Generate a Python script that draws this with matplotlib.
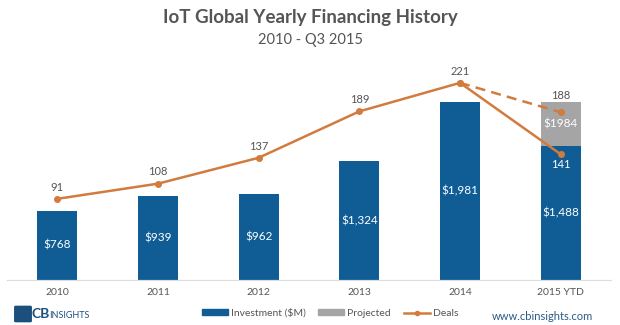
import matplotlib.pyplot as plt
import matplotlib.patches as mpatches
from matplotlib.lines import Line2D

plt.rcParams['font.family'] = ['Lato', 'DejaVu Sans']

# data
years = ['2010', '2011', '2012', '2013', '2014', '2015 YTD']
investment = [768, 939, 962, 1324, 1981, 1488]
invest_labels = ['$768', '$939', '$962', '$1,324', '$1,981', '$1,488']
projected_total = 1984
deals = [91, 108, 137, 189, 221, 141]
deals_projected = 188

blue = '#105d96'
gray = '#a5a5a5'
orange = '#d27b3e'
text_gray = '#555555'

fig = plt.figure(figsize=(6.2, 3.25), dpi=100)
ax = fig.add_axes([7 / 620, 45 / 325, 604 / 620, 220 / 325])
ax2 = ax.twinx()

x = list(range(len(years)))
ax.bar(x, investment, width=0.4, color=blue, zorder=2)
ax.bar(x[-1], projected_total - investment[-1], bottom=investment[-1],
       width=0.4, color=gray, zorder=2)

for xi, v, lab in zip(x, investment, invest_labels):
    ax.text(xi, v / 2, lab, ha='center', va='center', color='white', fontsize=8.5)
ax.text(x[-1], (investment[-1] + projected_total) / 2, '$1984',
        ha='center', va='center', color='white', fontsize=8.5)

ax.set_xlim(-0.5, 5.5)
ax.set_ylim(0, 2447)
ax2.set_ylim(0, 246.6)

# deals line
ax2.plot(x, deals, color=orange, lw=1.8, marker='o', ms=4, zorder=3)
ax2.plot([x[-2], x[-1]], [deals[-2], deals_projected], color=orange, lw=1.8,
         ls=(0, (4, 2.5)), marker='o', ms=4, zorder=3)
for xi, d in zip(x[:-1], deals[:-1]):
    ax2.text(xi, d + 7, str(d), ha='center', va='bottom', color=text_gray, fontsize=8)
ax2.text(x[-1], deals[-1] - 5, str(deals[-1]), ha='center', va='top',
         color='white', fontsize=8)
ax2.text(x[-1], 207, str(deals_projected), ha='center', va='center',
         color=text_gray, fontsize=8)

for a in (ax, ax2):
    for s in ['top', 'right', 'left']:
        a.spines[s].set_visible(False)
    a.set_yticks([])
    a.spines['bottom'].set_color('#dddddd')
ax.set_xticks(x)
ax.set_xticklabels(years, fontsize=7.5, color=text_gray)
ax.tick_params(axis='x', length=0, pad=6)
ax2.tick_params(axis='x', length=0)

# title
fig.text(0.5, 1 - 17 / 325, 'IoT Global Yearly Financing History', ha='center',
         va='center', fontsize=13.5, fontweight='bold', color=text_gray)
fig.text(0.5, 1 - 40 / 325, '2010 - Q3 2015', ha='center', va='center',
         fontsize=10.5, color=text_gray)

# legend
handles = [mpatches.Patch(color=blue, label='Investment ($M)'),
           mpatches.Patch(color=gray, label='Projected'),
           Line2D([0], [0], color=orange, lw=1.8, marker='o', ms=3, label='Deals')]
fig.legend(handles=handles, loc='center', bbox_to_anchor=(330 / 620, 1 - 313 / 325),
           ncol=3, frameon=False, fontsize=7.5, handlelength=2.5, handleheight=0.4,
           columnspacing=1.2, handletextpad=0.3, labelcolor=text_gray)

# logo and url
fig.patches.append(mpatches.FancyBboxPatch((16 / 620, 1 - 321 / 325), 14 / 620, 14 / 325,
                                           boxstyle='round,pad=0.002', color='#1d4f7c',
                                           transform=fig.transFigure))
fig.text(32 / 620, 1 - 314 / 325, 'CB', ha='left', va='center', fontsize=10,
         fontweight='bold', color='#1d4f7c')
fig.text(49 / 620, 1 - 315 / 325, 'INSIGHTS', ha='left', va='center', fontsize=6.5,
         color='#1d4f7c')
fig.text(593 / 620, 1 - 316 / 325, 'www.cbinsights.com', ha='right', va='center',
         fontsize=8, color='#2a5a85')

fig.savefig('out.png', dpi=100)
